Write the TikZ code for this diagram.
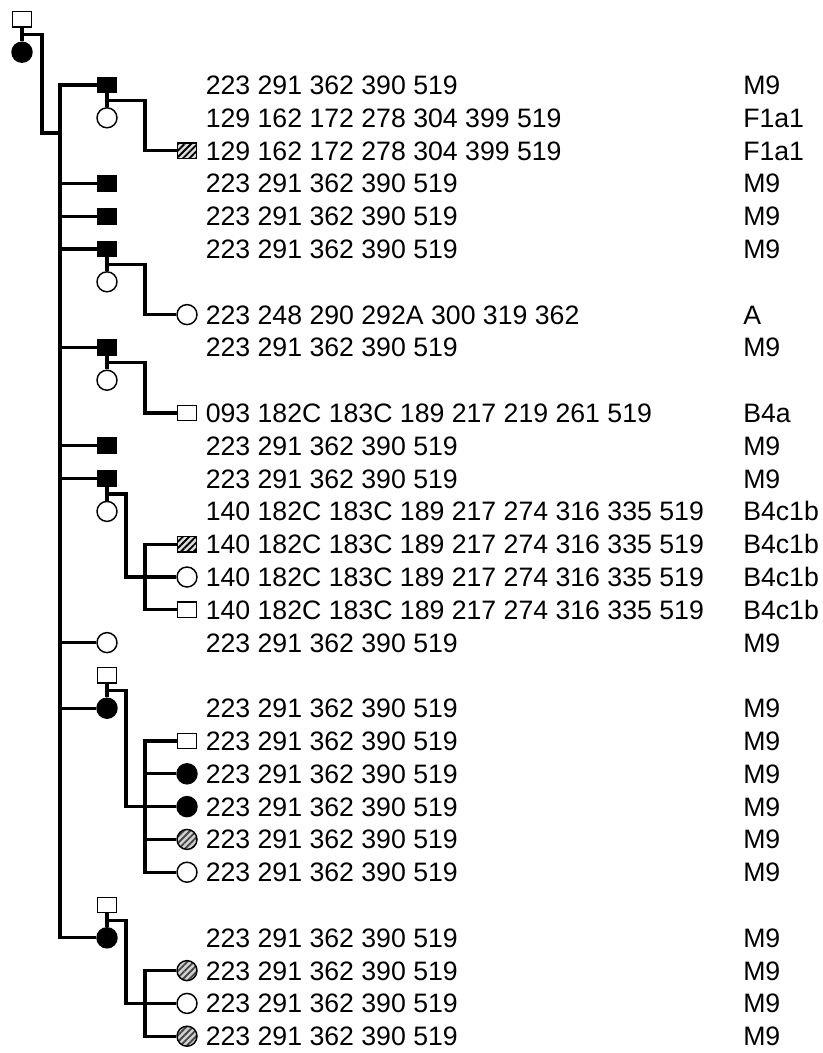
\documentclass[tikz,border=0pt]{standalone}
\usepackage{fontspec}
\setmainfont{Liberation Sans}
\usetikzlibrary{calc}
\usetikzlibrary{patterns.meta}

\tikzset{
  sym/.style={draw, line width=1.1pt, inner sep=0pt},
  male/.style={sym, rectangle, minimum width=14pt, minimum height=11.5pt},
  female/.style={sym, circle, minimum size=15pt},
  aff/.style={fill=black},
  hatchm/.style={preaction={fill=gray!25},
    pattern={Lines[angle=45,distance=3.4pt,line width=1.4pt]}, pattern color=black},
  hatchf/.style={preaction={fill=gray!35},
    pattern={Lines[angle=45,distance=3.4pt,line width=1.4pt]}, pattern color=gray!55!black},
  link/.style={line width=2.5pt},
  seq/.style={anchor=west, inner sep=0pt, text height=14.3pt, text depth=0pt,
    font=\fontsize{20}{24}\selectfont}
}

\def\mnine{223 291 362 390 519}
\def\bfour{140 182C 183C 189 217 274 316 335 519}

\begin{document}
\begin{tikzpicture}[x=0.75pt, y={(0,-24.6pt)}]
\useasboundingbox (0,-2.5915) rectangle (822,29.5122);

% columns of the pedigree
\def\xa{22} \def\xb{107} \def\xc{187} \def\xt{205.5} \def\xh{743}
\coordinate (main) at (60,0);
\coordinate (subA) at (145,0);
\coordinate (subB) at (126,0);
\coordinate (d0) at (42,1.463);

% founding couple
\node[male] (gm) at (\xa,-2) {};
\node[female,aff] (gf) at (\xa,-1) {};

% second generation
\node[male,aff] (s0) at (\xb,0) {};
\node[female] (w1) at (\xb,1) {};
\node[male,aff] (s3) at (\xb,3) {};
\node[male,aff] (s4) at (\xb,4) {};
\node[male,aff] (s5) at (\xb,5) {};
\node[female] (w6) at (\xb,6) {};
\node[male,aff] (s8) at (\xb,8) {};
\node[female] (w9) at (\xb,9) {};
\node[male,aff] (s11) at (\xb,11) {};
\node[male,aff] (s12) at (\xb,12) {};
\node[female] (w13) at (\xb,13) {};
\node[female] (c17) at (\xb,17) {};
\node[male] (m18) at (\xb,18) {};
\node[female,aff] (c19) at (\xb,19) {};
\node[male] (m25) at (\xb,25) {};
\node[female,aff] (c26) at (\xb,26) {};

% third generation
\node[male,hatchm] (s2) at (\xc,2) {};
\node[female] (c7) at (\xc,7) {};
\node[male] (s10) at (\xc,10) {};
\node[male,hatchm] (s14) at (\xc,14) {};
\node[female] (c15) at (\xc,15) {};
\node[male] (s16) at (\xc,16) {};
\node[male] (s20) at (\xc,20) {};
\node[female,aff] (c21) at (\xc,21) {};
\node[female,aff] (c22) at (\xc,22) {};
\node[female,hatchf] (c23) at (\xc,23) {};
\node[female] (c24) at (\xc,24) {};
\node[female,hatchf] (c27) at (\xc,27) {};
\node[female] (c28) at (\xc,28) {};
\node[female,hatchf] (c29) at (\xc,29) {};

% couples
\foreach \a/\b/\j in {gm/gf/j0, s0/w1/j1, s5/w6/j6, s8/w9/j9, s12/w13/j13, m18/c19/j19, m25/c26/j26} {
  \draw[link] (\a) -- (\b);
  \coordinate (\j) at ($(\a.south)!0.5!(\b.north)$);
}

\begin{scope}[link, line join=miter]
  \draw (j0) -| (d0) -- (d0 -| main);
  \draw (s0.west) -| (c26.west -| main) -- (c26.west);
  \foreach \n in {s3,s4,s5,s8,s11,s12,c17,c19}
    \draw (\n.west) -- (\n.west -| main);

  \draw (j1) -| (s2.west -| subA) -- (s2.west);
  \draw (j6) -| (c7.west -| subA) -- (c7.west);
  \draw (j9) -| (s10.west -| subA) -- (s10.west);

  \draw (j13) -| (c15.west -| subB) -- (c15.west);
  \draw (s14.west) -| (s16.west -| subA) -- (s16.west);

  \draw (j19) -| (c22.west -| subB) -- (c22.west);
  \draw (s20.west) -| (c24.west -| subA) -- (c24.west);
  \foreach \n in {c21,c23}
    \draw (\n.west) -- (\n.west -| subA);

  \draw (j26) -| (c28.west -| subB) -- (c28.west);
  \draw (c27.west) -| (c29.west -| subA) -- (c29.west);
\end{scope}

% sequences and haplogroups
\foreach \r in {0,3,4,5,8,11,12,17,19,20,21,22,23,24,26,27,28,29} {
  \node[seq] (t\r) at (\xt,\r) {\mnine};
  \node[seq] (h\r) at (\xh,\r) {M9};
}
\foreach \r in {1,2} {
  \node[seq] (t\r) at (\xt,\r) {129 162 172 278 304 399 519};
  \node[seq] (h\r) at (\xh,\r) {F1a1};
}
\node[seq] (t7) at (\xt,7) {223 248 290 292A 300 319 362};
\node[seq] (h7) at (\xh,7) {A};
\node[seq] (t10) at (\xt,10) {093 182C 183C 189 217 219 261 519};
\node[seq] (h10) at (\xh,10) {B4a};
\foreach \r in {13,14,15,16} {
  \node[seq] (t\r) at (\xt,\r) {\bfour};
  \node[seq] (h\r) at (\xh,\r) {B4c1b};
}
\end{tikzpicture}
\end{document}
